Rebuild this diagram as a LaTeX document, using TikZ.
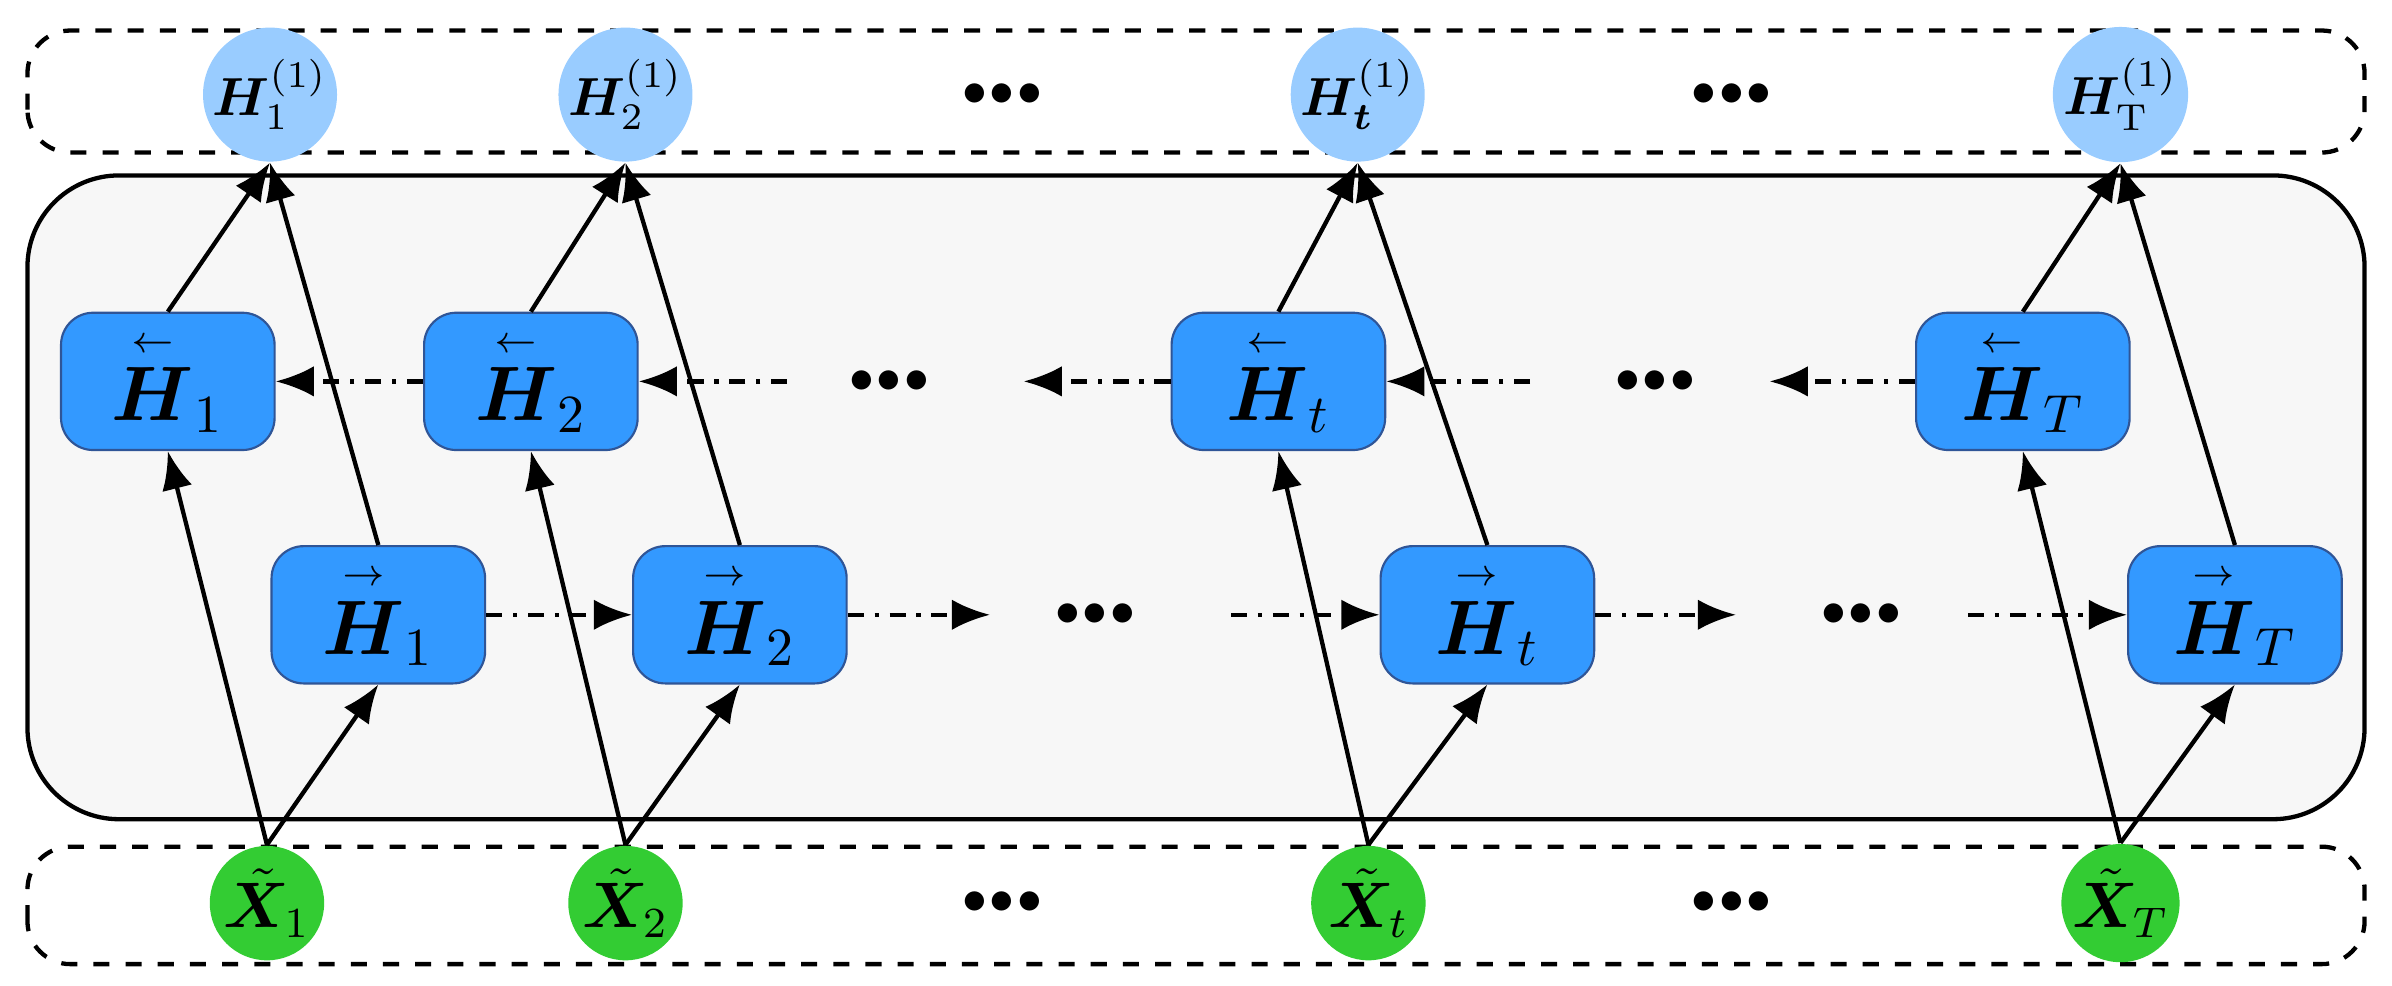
\documentclass[tikz,border=0pt]{standalone}
\usepackage{amsmath,bm}
\usetikzlibrary{positioning,arrows.meta}
\definecolor{cellblue}{HTML}{3399FF}
\definecolor{celledge}{HTML}{2F5597}
\definecolor{outblue}{HTML}{99CCFF}
\definecolor{ingreen}{HTML}{33CC33}
\definecolor{panel}{HTML}{F7F7F7}
\tikzset{
  cell/.style={draw=celledge, fill=cellblue, rounded corners=6pt, minimum width=1.4cm, minimum height=0.9cm, font=\Large, inner sep=0pt},
  outnode/.style={circle, fill=outblue, minimum size=0.75cm, inner sep=0pt},
  innode/.style={circle, fill=ingreen, minimum size=0.75cm, inner sep=0pt, font=\large},
  layer/.style={draw, dashed, thick, rounded corners=8pt},
  flow/.style={-{Latex[length=2.5mm,width=2mm]}, thick},
  rec/.style={-{Latex[length=2.5mm,width=2mm]}, thick, dash dot},
  dots/.style={font=\small, inner sep=0pt}
}
\begin{document}
\begin{tikzpicture}
\useasboundingbox (0,0) rectangle (15.68,6.46);
% layers
\draw[layer] (0.18,5.46) rectangle (15.50,6.26);
\draw[layer] (0.18,0.14) rectangle (15.50,0.91);
\draw[thick, fill=panel, rounded corners=0.6cm] (0.18,1.09) rectangle (15.50,5.31);
% columns
\foreach \i/\xb/\xf/\xh/\xx/\s/\o in {
  1/1.10/2.48/1.77/1.75/1/1,
  2/3.48/4.85/4.10/4.10/2/2,
  t/8.38/9.75/8.90/8.97/t/\bm{t},
  T/13.26/14.65/13.90/13.90/T/\mathrm{T}
} {
  \node[cell] (hb\i) at (\xb,3.96) {$\overset{\scriptscriptstyle\leftarrow}{\bm{H}}_{\s}$};
  \node[cell] (hf\i) at (\xf,2.43) {$\overset{\scriptscriptstyle\rightarrow}{\bm{H}}_{\s}$};
  \node[outnode] (h\i) at (\xh,5.84) {$\bm{H}_{\o}^{(1)}$};
  \node[innode] (x\i) at (\xx,0.54) {$\tilde{\bm{X}}_{\s}$};
  \draw[flow] (x\i.north) -- (hb\i.south);
  \draw[flow] (x\i.north) -- (hf\i.south);
  \draw[flow] (hb\i.north) -- (h\i.south);
  \draw[flow] (hf\i.north) -- (h\i.south);
}
% ellipses
\foreach \n/\x/\y in {d1/6.57/5.84, d2/11.35/5.84, d3/5.83/3.96, d4/10.85/3.96, d5/7.18/2.43, d6/12.20/2.43, d7/6.57/0.54, d8/11.35/0.54}
  \node[dots] (\n) at (\x,\y) {$\bullet\!\bullet\!\bullet$};
% backward recurrence
\coordinate (b1) at (5.16,3.96);
\coordinate (b2) at (6.71,3.96);
\coordinate (b3) at (10.03,3.96);
\coordinate (b4) at (11.60,3.96);
\draw[rec] (hb2) -- (hb1);
\draw[rec] (b1) -- (hb2);
\draw[rec] (hbt) -- (b2);
\draw[rec] (b3) -- (hbt);
\draw[rec] (hbT) -- (b4);
% forward recurrence
\coordinate (f1) at (6.49,2.43);
\coordinate (f2) at (8.07,2.43);
\coordinate (f3) at (11.38,2.43);
\coordinate (f4) at (12.90,2.43);
\draw[rec] (hf1) -- (hf2);
\draw[rec] (hf2) -- (f1);
\draw[rec] (f2) -- (hft);
\draw[rec] (hft) -- (f3);
\draw[rec] (f4) -- (hfT);
\end{tikzpicture}
\end{document}
